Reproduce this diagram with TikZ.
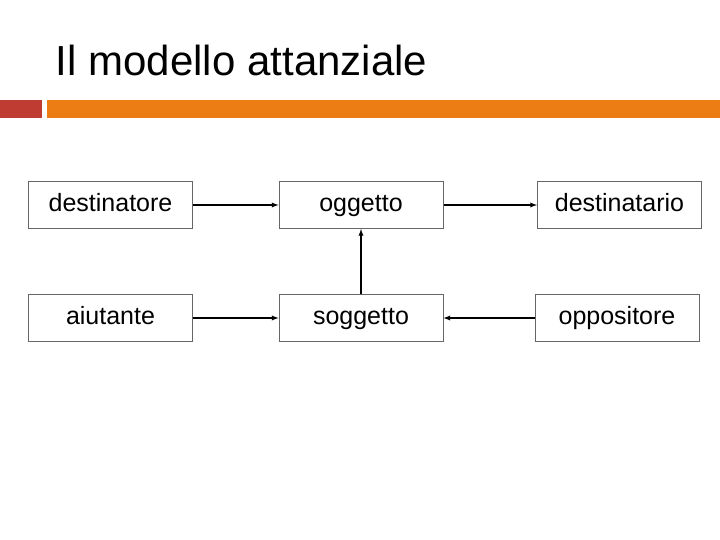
\documentclass[tikz,border=0pt]{standalone}
\usepackage{fontspec}
\setmainfont{Liberation Sans}
\usetikzlibrary{arrows,positioning}
\definecolor{barred}{RGB}{190,60,50}
\definecolor{barorange}{RGB}{235,125,20}
\begin{document}
\begin{tikzpicture}[x=1pt,y=-1pt,->,>=latex,line width=1.3pt,
  box/.style={draw=black!60,line width=1pt,minimum width=164pt,minimum height=47pt,font=\fontsize{25}{28}\selectfont,inner sep=0pt,text height=18pt,text depth=5pt}]
\useasboundingbox (0,0) rectangle (720,540);
\fill[barred] (0,100) rectangle (42,118);
\fill[barorange] (47,100) rectangle (720,118);
\node[anchor=west,font=\fontsize{42}{48}\selectfont] (T) at (52,60) {Il modello attanziale};

\node[box] (D1) at (110.5,205) {destinatore};
\node[box] (O)  at (361,205)   {oggetto};
\node[box] (D2) at (619.5,205) {destinatario};

\node[box] (A)  at (110.5,318) {aiutante};
\node[box] (S)  at (361,318)   {soggetto};
\node[box] (Op) at (617,318)   {oppositore};

\path
	(D1) edge (O)
	(O) edge (D2);
\path
	(A) edge (S)
	(Op) edge (S)
	(S) edge (O);
\end{tikzpicture}
\end{document}
